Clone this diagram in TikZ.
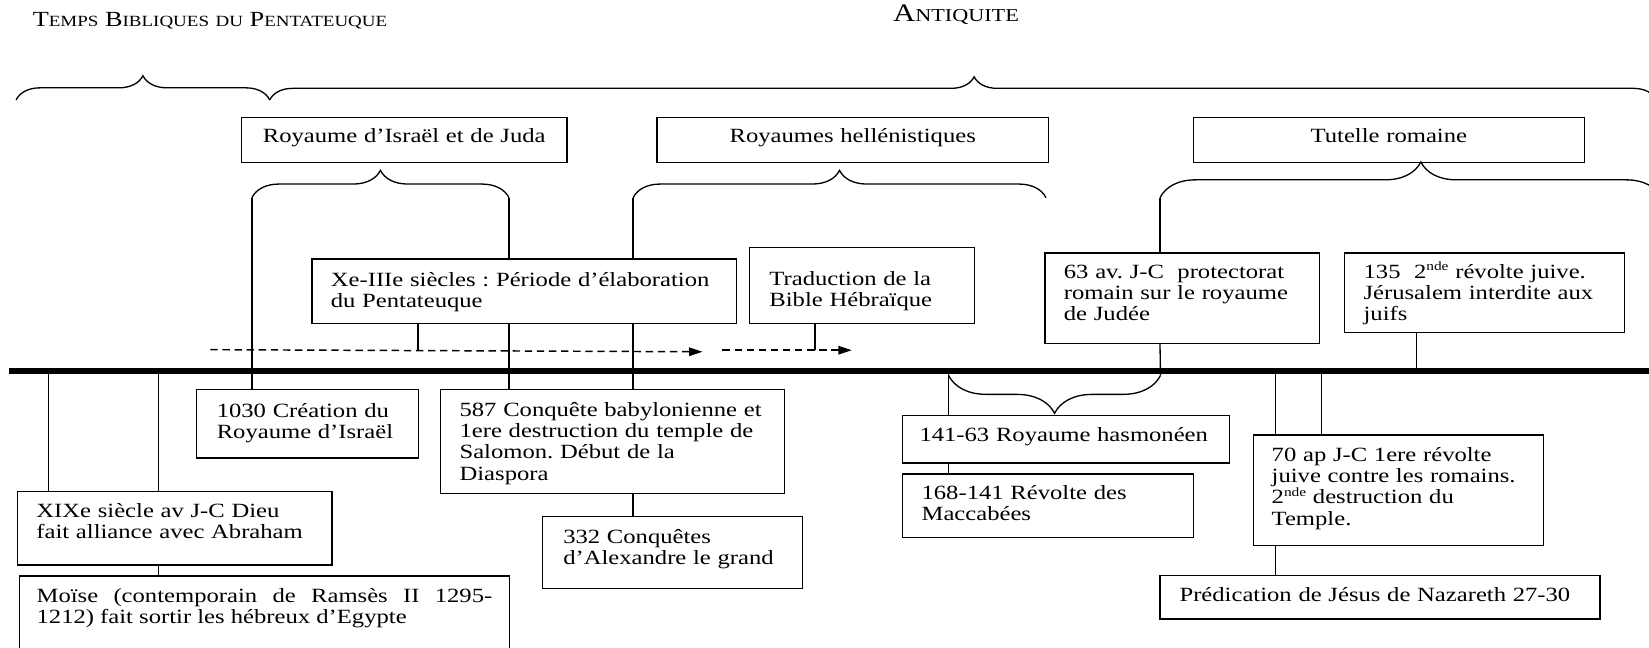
\documentclass[tikz,border=0pt]{standalone}
\usepackage{fontspec}
\setmainfont{Liberation Serif}[FakeStretch=1.22]
\usetikzlibrary{arrows.meta,decorations.pathreplacing,backgrounds}
\frenchspacing

\newcommand\bodyfont{\fontsize{19.2pt}{20.3pt}\selectfont}
\newcommand\hdA{\fontsize{20.5pt}{21pt}\selectfont}
\newcommand\hdB{\fontsize{14.8pt}{15pt}\selectfont}
\newcommand\hdC{\fontsize{24pt}{24pt}\selectfont}
\newcommand\hdD{\fontsize{17.3pt}{17.3pt}\selectfont}
\newcommand\expo[1]{\raisebox{.8ex}{\fontsize{12pt}{12pt}\selectfont #1}}

\tikzset{
  box/.style={draw, fill=white, line width=1.25pt, anchor=north west,
    inner xsep=18pt, inner ysep=0pt, text height=25pt, align=left, font=\bodyfont,
    execute at begin node={\hyphenpenalty=10000}},
  lnk/.style={line width=1.25pt},
  brc/.style={line width=1.25pt, decorate, decoration={brace, amplitude=#1}},
  dsh/.style={line width=1.4pt, dash pattern=on 7pt off 4.5pt,
    -{Triangle[length=12.7pt,width=8pt]}},
  tl/.style={line width=5.7pt},
}

\begin{document}
\begin{tikzpicture}[x=1pt, y=-1pt]
\useasboundingbox (0,0) rectangle (1568,616);
\clip (0,0) rectangle (1568,616);

% titres
\node[anchor=base west, inner sep=0pt] (hdrTemps) at (31,25.4)
  {\hdA T{\hdB EMPS} B{\hdB IBLIQUES} {\hdB DU} P{\hdB ENTATEUQUE}};
\node[anchor=base west, inner sep=0pt] (hdrAnt) at (849,20.6)
  {\hdC A{\hdD NTIQUITE}};

% accolades du haut
\draw[brc=23pt] (15.3,95) -- (256.5,95);
\draw[brc=22pt, decoration={aspect=0.508}] (256.5,95) -- (1575,95);

% periodes
\node[box, align=center, text width=273.5pt, text height=23.7pt, text depth=19.3pt] (isr) at (229,111)
  {Royaume d’Israël et de Juda};
\node[box, align=center, text width=336.5pt, text height=23.7pt, text depth=19.3pt] (hel) at (624,111)
  {Royaumes hellénistiques};
\node[box, align=center, text width=336pt, text height=23.7pt, text depth=19.3pt] (tut) at (1134,111)
  {Tutelle romaine};

\coordinate (isrL) at (239.5,188);
\coordinate (isrR) at (484,188);
\coordinate (helL) at (602,188);
\coordinate (helR) at (994.6,188);
\coordinate (tutL) at (1103,188);
\draw[brc=26pt] (isrL) -- (isrR);
\draw[brc=26pt] (helL) -- (helR);
\draw[brc=34pt, decoration={aspect=0.52}] (tutL) -- (1580,188);

% au-dessus de la ligne du temps
\node[box, text width=368pt, text height=26pt, text depth=35.5pt] (xe) at (296,245.5)
  {Xe-IIIe siècles : Période d’élaboration\\du Pentateuque};
\node[box, inner xsep=19pt, text width=176pt, text height=36pt, text depth=36.5pt] (trad) at (712,234.5)
  {Traduction de la\\Bible Hébraïque};
\node[box, text width=225pt, text height=24pt, text depth=62pt] (av63) at (993,240)
  {63 av. J-C~~protectorat\\romain sur le royaume\\de Judée};
\node[box, text width=230pt, text height=24pt, text depth=51.4pt] (s135) at (1278,240)
  {135~~2\expo{nde} révolte juive.\\Jérusalem interdite aux\\juifs};

% fleches en pointilles
\coordinate (dA) at (200,332.5);
\coordinate (dB) at (668,334.5);
\coordinate (dC) at (687,333);
\coordinate (dD) at (810,333);
\coordinate (xeT) at (397.5,333.3);
\coordinate (trT) at (775,333);
\draw[dsh] (dA) -- (dB);
\draw[dsh] (dC) -- (dD);

% ligne du temps
\coordinate (tlL) at (8.5,352.5);
\coordinate (tlR) at (1568,352.5);
\coordinate (tAbr) at (46,352.5);
\coordinate (tMoi) at (150.5,352.5);
\coordinate (tJC1) at (1213,352.5);
\coordinate (tJC2) at (1256.5,352.5);
\coordinate (t135) at (1347,352.5);
\draw[tl] (tlL) -- (tlR);

% en dessous
\node[box, inner xsep=19.5pt, text width=172.3pt, text height=26pt, text depth=39pt] (n1030) at (186,370)
  {1030 Création du\\Royaume d’Israël};
\node[box, text width=291.1pt, text depth=73.5pt] (n587) at (418.4,370)
  {587 Conquête babylonienne et\\1ere destruction du temple de\\Salomon. Début de la\\Diaspora};
\node[box, inner xsep=19.5pt, text width=207.8pt, text height=25.4pt, text depth=42.8pt] (n332) at (515.5,490.6)
  {332 Conquêtes\\d’Alexandre le grand};
\node[box, text width=263pt, text height=24.5pt, text depth=45.6pt] (xix) at (16,466.5)
  {XIXe siècle av J-C Dieu\\fait alliance avec Abraham};
\node[box, align=justify, inner xsep=16.5pt, text width=433.3pt, text depth=55pt] (moise) at (17.7,547)
  {Moïse (contemporain de Ramsès II 1295-\linebreak 1212) fait sortir les hébreux d’Egypte};
\node[box, inner xsep=16pt, text width=279pt, text height=24.4pt, text depth=20.6pt] (hasm) at (857.7,394.6)
  {141-63 Royaume hasmonéen};
\node[box, text width=240.8pt, text height=24pt, text depth=36.3pt] (mac) at (857.7,450)
  {168-141 Révolte des\\Maccabées};
\node[box, inner xsep=17.6pt, text width=240.8pt, text depth=80pt] (n70) at (1191,413)
  {70 ap J-C 1ere révolte\\juive contre les romains.\\2\expo{nde} destruction du\\Temple.};
\node[box, inner xsep=18.5pt, text width=381.4pt, text depth=16.3pt] (pred) at (1102.5,546.7)
  {Prédication de Jésus de Nazareth 27-30};

\coordinate (hasR) at (1103.5,357);
\coordinate (hasL) at (902,357);
\draw[brc=36pt] (hasR) -- (hasL);

\begin{scope}[on background layer]
\draw[lnk] (isrL) -- (isrL |- n1030.north);
\draw[lnk] (isrR) -- (isrR |- n587.north);
\draw[lnk] (helL) -- (helL |- n587.north);
\draw[lnk] (helL |- n587.south) -- (helL |- n332.north);
\draw[lnk] (xe.south -| xeT) -- (xeT);
\draw[lnk] (trad.south -| trT) -- (trT);
\draw[lnk] (tutL) -- (tutL |- av63.north);
\draw[lnk] (tutL |- av63.south) -- (hasR);
\draw[lnk] (hasL |- tlL) -- (hasL |- mac.north);
\draw[lnk] (tAbr) -- (tAbr |- xix.north);
\draw[lnk] (tMoi) -- (tMoi |- xix.north);
\draw[lnk] (tMoi |- xix.south) -- (tMoi |- moise.north);
\draw[lnk] (t135 |- s135.south) -- (t135);
\draw[lnk] (tJC1) -- (tJC1 |- n70.north);
\draw[lnk] (tJC2) -- (tJC2 |- n70.north);
\draw[lnk] (tJC1 |- n70.south) -- (tJC1 |- pred.north);
\end{scope}
\end{tikzpicture}
\end{document}
